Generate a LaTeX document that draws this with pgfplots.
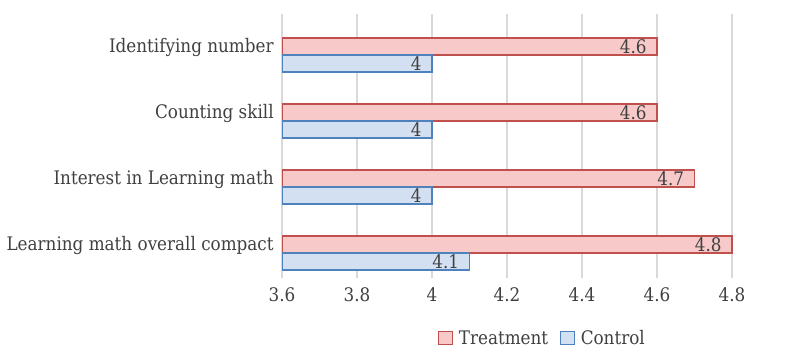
\documentclass[border=0pt]{standalone}
\usepackage{fontspec}
\setmainfont{DejaVu Serif Condensed}
\usepackage{pgfplots}
\pgfplotsset{compat=1.18}
\definecolor{txt}{HTML}{404040}
\definecolor{gridc}{HTML}{D9D9D9}
\definecolor{tred}{HTML}{C0504D}
\definecolor{tfill}{HTML}{F8C9C9}
\definecolor{cblue}{HTML}{4F81BD}
\definecolor{cfill}{HTML}{D3E0F1}
\begin{document}
\begin{tikzpicture}
\begin{axis}[
  at={(211.5pt,51.75pt)}, anchor=south west,
  scale only axis, width=393.75pt, height=198pt,
  xmin=3.6, xmax=5, ymin=-0.5, ymax=3.5,
  xtick={3.6,3.8,4,4.2,4.4,4.6,4.8,5},
  xticklabels={3.6,3.8,4,4.2,4.4,4.6,4.8,5},
  ytick={0,1,2,3},
  yticklabels={Learning math overall compact,Interest in Learning math,Counting skill,Identifying number},
  xmajorgrids, major grid style={gridc, line width=1.1pt},
  axis line style={draw=none}, tick style={draw=none},
  tick label style={font=\fontsize{14}{16}\selectfont, text=txt},
  xticklabel style={yshift=-3.5pt},
  yticklabel style={xshift=1.5pt},
  /pgf/number format/assume math mode=true,
  xbar, bar width=12.75pt,
  point meta=x,
  nodes near coords,
  every node near coord/.append style={anchor=east, xshift=-4pt, font=\fontsize{14}{16}\selectfont, text=txt},
  area legend,
  legend image code/.code={\draw[#1, line width=0.8pt] (0pt,-5pt) rectangle (10pt,5pt); \path[draw=none, fill=none] (0pt,0pt) -- (13pt,0pt);},
  legend style={at={(0.497,-0.228)}, anchor=center, draw=none, legend columns=2,
    font=\fontsize{14}{16}\selectfont, text=txt, /tikz/every even column/.append style={column sep=7pt}},
]
\addplot[draw=tred, fill=tfill, line width=0.9pt, bar shift=0.375pt] coordinates {(4.8,0) (4.7,1) (4.6,2) (4.6,3)};
\addplot[draw=cblue, fill=cfill, line width=0.9pt, bar shift=-12.375pt] coordinates {(4.1,0) (4,1) (4,2) (4,3)};
\legend{Treatment,Control}
\end{axis}
\pgfresetboundingbox
\path[use as bounding box] (0,0) rectangle (601.5pt,260.25pt);
\end{tikzpicture}
\end{document}
